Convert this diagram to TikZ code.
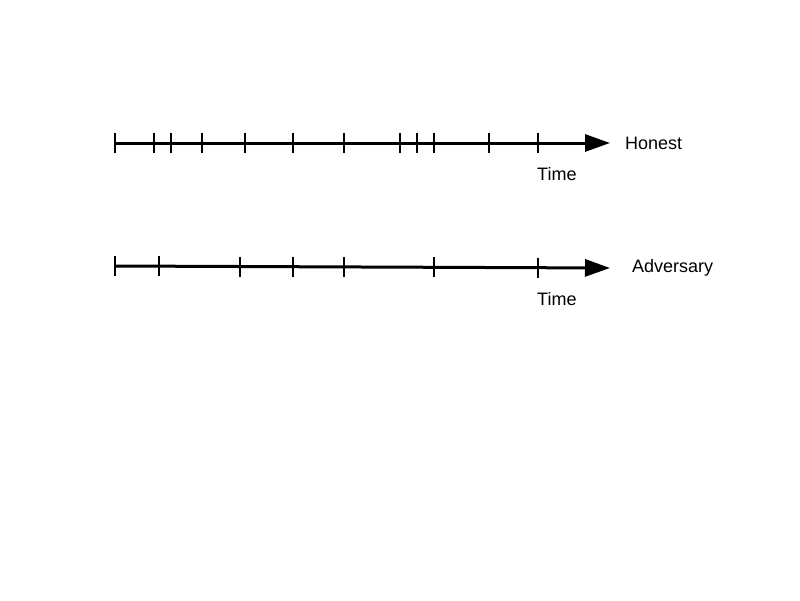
\documentclass[tikz,border=0pt]{standalone}
\usepackage{fontspec}
\setmainfont{Liberation Sans}
\usetikzlibrary{arrows.meta}

\tikzset{
  axis/.style={line width=3pt, -{Triangle[length=25pt,width=17pt]}},
  tick/.style={line width=1.8pt},
  lab/.style={inner sep=0pt, anchor=base west, font=\fontsize{18}{20}\selectfont}
}

\begin{document}
\begin{tikzpicture}[x=1pt,y=-1pt]
\useasboundingbox (0,0) rectangle (800,600);
%\draw [help lines] (0,0) grid[step=50] (800,600);
% honest chain
\coordinate (hs) at (115,143);
\coordinate (he) at (610,143);
\draw [axis] (hs)--(he);
\foreach \t in {115,154,171,202,245,293,344,400,417,434,489,538}
  \draw [tick] (\t,133)--(\t,153);
\node [lab] (honest) at (625,149) {Honest};
\node [lab] (htime) at (537,180) {Time};
% adversary chain
\coordinate (as) at (115,266);
\coordinate (ae) at (610,268);
\draw [axis] (as)--(ae);
\foreach \t in {115,159,240,293,344,434,538}
  \draw [tick] (\t,{256+(\t-115)/250})--(\t,{276+(\t-115)/250});
\node [lab] (adv) at (632,272) {Adversary};
\node [lab] (atime) at (537,305) {Time};
\end{tikzpicture}
\end{document}
